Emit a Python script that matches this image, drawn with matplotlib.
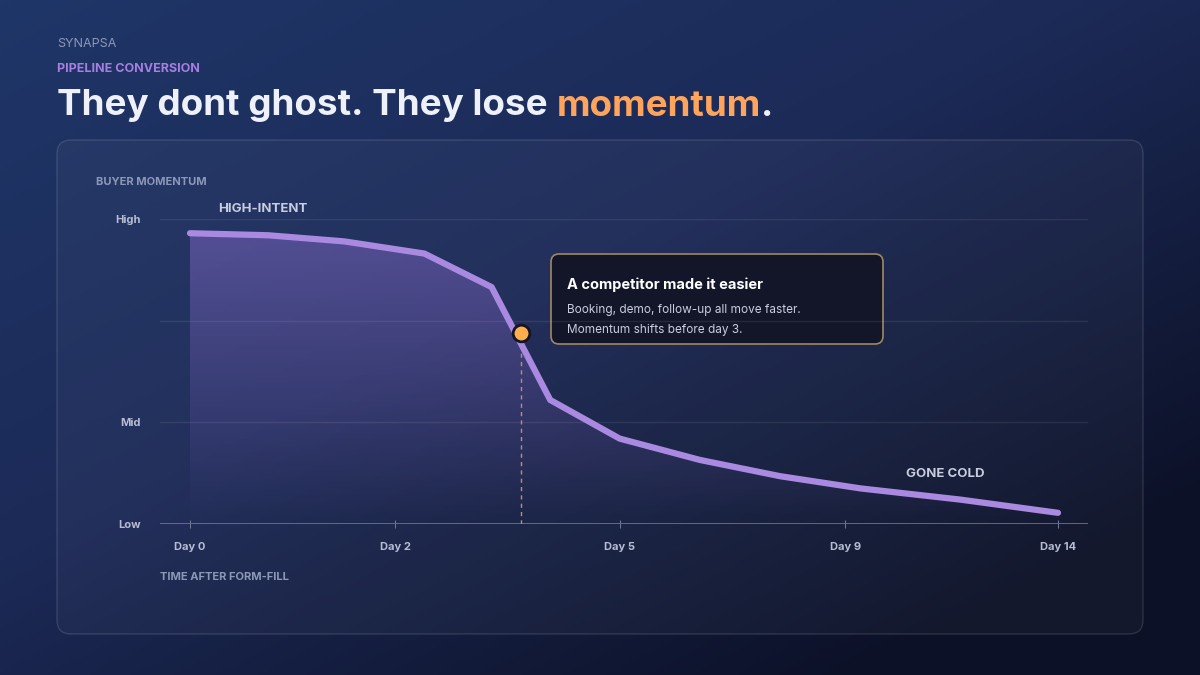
import numpy as np
import matplotlib
matplotlib.use("Agg")
import matplotlib.pyplot as plt
from matplotlib.patches import FancyBboxPatch
from matplotlib.colors import LinearSegmentedColormap

# data (position units on the x scale; momentum 0=Low,1=Mid,3=High)
x_pos = [0.0, 0.36, 0.71, 1.08, 1.39, 1.66, 1.98, 2.35, 2.72, 3.09, 3.55, 4.0]
momentum = [2.86, 2.84, 2.78, 2.66, 2.33, 1.22, 0.84, 0.63, 0.47, 0.35, 0.24, 0.11]
tick_pos = [0, 0.945, 1.98, 3.02, 4.0]
tick_labels = ["Day 0", "Day 2", "Day 5", "Day 9", "Day 14"]
y_ticks = [0, 1, 3]
y_labels = ["Low", "Mid", "High"]
marker_x, marker_y = 1.525, 1.88

W, H = 1200, 675
fig = plt.figure(figsize=(W/100, H/100), dpi=100)
bg = fig.add_axes([0, 0, 1, 1]); bg.set_axis_off()
yy, xx = np.mgrid[0:1:200j, 0:1:200j]
t = np.clip(0.55*xx + 0.6*yy, 0, 1)
cmap = LinearSegmentedColormap.from_list("bg", ["#1f3668", "#1c2a57", "#0c1127"])
bg.imshow(t, cmap=cmap, extent=[0, W, H, 0], aspect="auto")
bg.set_xlim(0, W); bg.set_ylim(H, 0)
bg.add_patch(FancyBboxPatch((57, 140), 1086, 494, boxstyle="round,pad=0,rounding_size=14",
             fc=(1, 1, 1, 0.03), ec=(1, 1, 1, 0.12), lw=1))
F = "Inter"
bg.text(57, 44, "SYNAPSA", color="#8d98b8", fontsize=9, family=F, va="center")
bg.text(57, 69, "PIPELINE CONVERSION", color="#a77fe0", fontsize=9, family=F, va="center", fontweight="bold")

r = fig.canvas.get_renderer()
x0 = 57
for part, col in [("They dont ghost. They lose ", "#eef1fa"), ("momentum", "#ffa45c"), (".", "#eef1fa")]:
    tx = bg.text(x0, 106, part, color=col, fontsize=26.5, family=F, fontweight="bold", va="center")
    x0 += tx.get_window_extent(renderer=r).width
bg.text(96, 182, "BUYER MOMENTUM", color="#8d98b8", fontsize=8, family=F, va="center", fontweight="bold")
bg.text(160, 577, "TIME AFTER FORM-FILL", color="#8d98b8", fontsize=8, family=F, va="center", fontweight="bold")

ax = fig.add_axes([160/W, 1-524/H, (1088-160)/W, (524-219)/H])
ax.set_facecolor("none")
ax.set_xlim((160-190)/217, (1088-190)/217)
ax.set_ylim(0, 3)
for s in ax.spines.values(): s.set_visible(False)
for g in [1, 2, 3]:
    ax.axhline(g, color=(1, 1, 1, 0.08), lw=1)
ax.axhline(0, color="#6b7494", lw=1.2)
ax.set_xticks(tick_pos); ax.set_xticklabels(tick_labels)
ax.set_yticks(y_ticks); ax.set_yticklabels(y_labels)
ax.tick_params(axis="x", colors="#6b7494", length=6, direction="inout", labelcolor="#b6bdd3", labelsize=8, pad=10)
ax.tick_params(axis="y", length=0, labelcolor="#b6bdd3", labelsize=8, pad=14)
for l in ax.get_xticklabels() + ax.get_yticklabels():
    l.set_family(F); l.set_fontweight("bold")

xs = np.array(x_pos); ys = np.array(momentum)
grad = np.linspace(0, 1, 256).reshape(-1, 1)
fcm = LinearSegmentedColormap.from_list("f", [(0.58, 0.45, 0.85, 0.0), (0.58, 0.45, 0.85, 0.45)])
im = ax.imshow(grad, cmap=fcm, extent=[xs[0], xs[-1], 0, 3], origin="lower", aspect="auto", zorder=1)
poly = ax.fill_between(xs, ys, 0, color="none")
im.set_clip_path(poly.get_paths()[0], transform=ax.transData)
ax.plot(xs, ys, color="#a98ae0", lw=4.5, solid_capstyle="round", solid_joinstyle="round", zorder=3)
ax.plot([marker_x, marker_x], [0, marker_y], ls=(0, (3, 3)), color="#c08f6a", lw=1, zorder=2)
ax.plot(marker_x, marker_y, "o", ms=12, mfc="#ffad4d", mec="#111524", mew=2, zorder=5)
ax.text(xs[0]+0.13, 3.1, "HIGH-INTENT", color="#c9cde0", fontsize=9.5, family=F, fontweight="bold", va="center")
ax.text(3.3, 0.49, "GONE COLD", color="#c9cde0", fontsize=9.5, family=F, fontweight="bold", va="center")

bg.add_patch(FancyBboxPatch((551, 254), 332, 90, boxstyle="round,pad=0,rounding_size=8",
             fc="#121628", ec="#a08763", lw=1.2, zorder=10))
bg.text(567, 285, "A competitor made it easier", color="white", fontsize=10.5, family=F, fontweight="bold", va="center", zorder=11)
bg.text(567, 310, "Booking, demo, follow-up all move faster.", color="#c9cde0", fontsize=8.5, family=F, va="center", zorder=11)
bg.text(567, 330, "Momentum shifts before day 3.", color="#c9cde0", fontsize=8.5, family=F, va="center", zorder=11)

fig.savefig("out.png", dpi=100)
